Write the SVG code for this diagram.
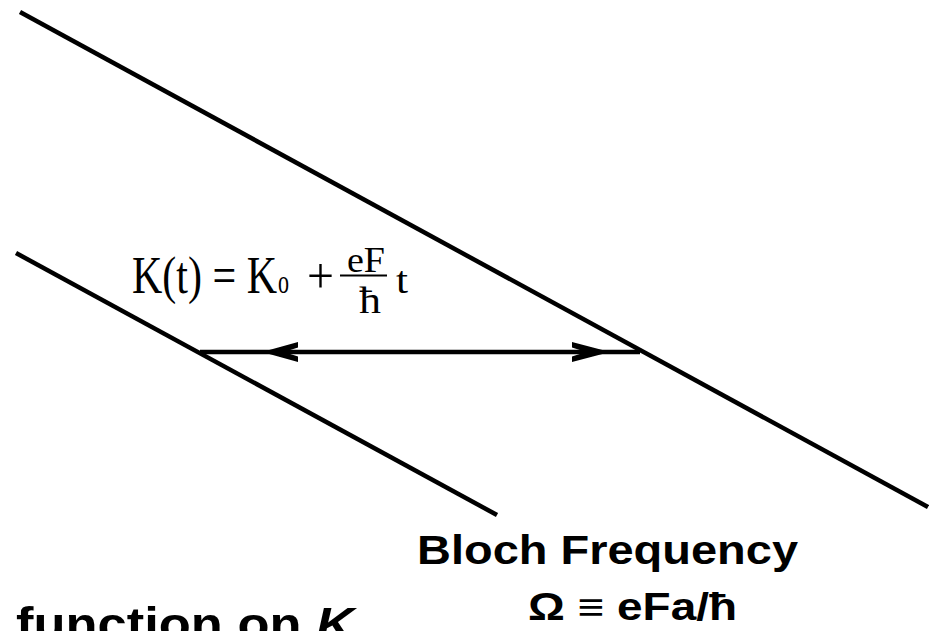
<svg xmlns="http://www.w3.org/2000/svg" width="929" height="631" viewBox="0 0 929 631">
<style>
.ln{stroke:#000;stroke-width:4.5;fill:none;stroke-linecap:butt}
.tm{font-family:"Liberation Serif","Times New Roman",serif;fill:#000}
.sb{font-family:"Liberation Sans",Arial,sans-serif;font-weight:bold;fill:#000}
</style>
<rect width="929" height="631" fill="#fff"/>
<g id="connectors">
<line class="ln" x1="20" y1="12" x2="928" y2="507"/>
<line class="ln" x1="16" y1="253" x2="497" y2="515"/>
<line class="ln" x1="200" y1="352" x2="640" y2="352"/>
<polygon points="262,352 298,342 298,347.5 284,352 298,356.5 298,362" fill="#000"/>
<polygon points="610,352 572,342 572,347.5 586,352 572,356.5 572,362" fill="#000"/>
</g>
<g id="formula">
<text class="tm" x="132" y="293" font-size="52" textLength="145" lengthAdjust="spacingAndGlyphs">K(t) = K</text>
<text class="tm" x="278" y="293" font-size="34" textLength="11" lengthAdjust="spacingAndGlyphs">o</text>
<text class="tm" x="307" y="293" font-size="50" textLength="27" lengthAdjust="spacingAndGlyphs">+</text>
<text class="tm" x="347" y="272" font-size="36" textLength="38" lengthAdjust="spacingAndGlyphs">eF</text>
<line x1="340" y1="275.5" x2="387" y2="275.5" stroke="#000" stroke-width="2"/>
<text class="tm" x="359" y="313" font-size="37" textLength="22" lengthAdjust="spacingAndGlyphs">ħ</text>
<text class="tm" x="396" y="293" font-size="37" textLength="12" lengthAdjust="spacingAndGlyphs">t</text>
</g>
<g id="bloch">
<text class="sb" x="417" y="564" font-size="41" textLength="381" lengthAdjust="spacingAndGlyphs">Bloch Frequency</text>
<text class="sb" x="528" y="620" font-size="38" textLength="209" lengthAdjust="spacingAndGlyphs">Ω ≡ eFa/ħ</text>
</g>
<g id="function">
<text class="sb" x="16" y="640" font-size="46" textLength="338" lengthAdjust="spacingAndGlyphs">function on <tspan font-style="italic">K</tspan></text>
</g>
</svg>
